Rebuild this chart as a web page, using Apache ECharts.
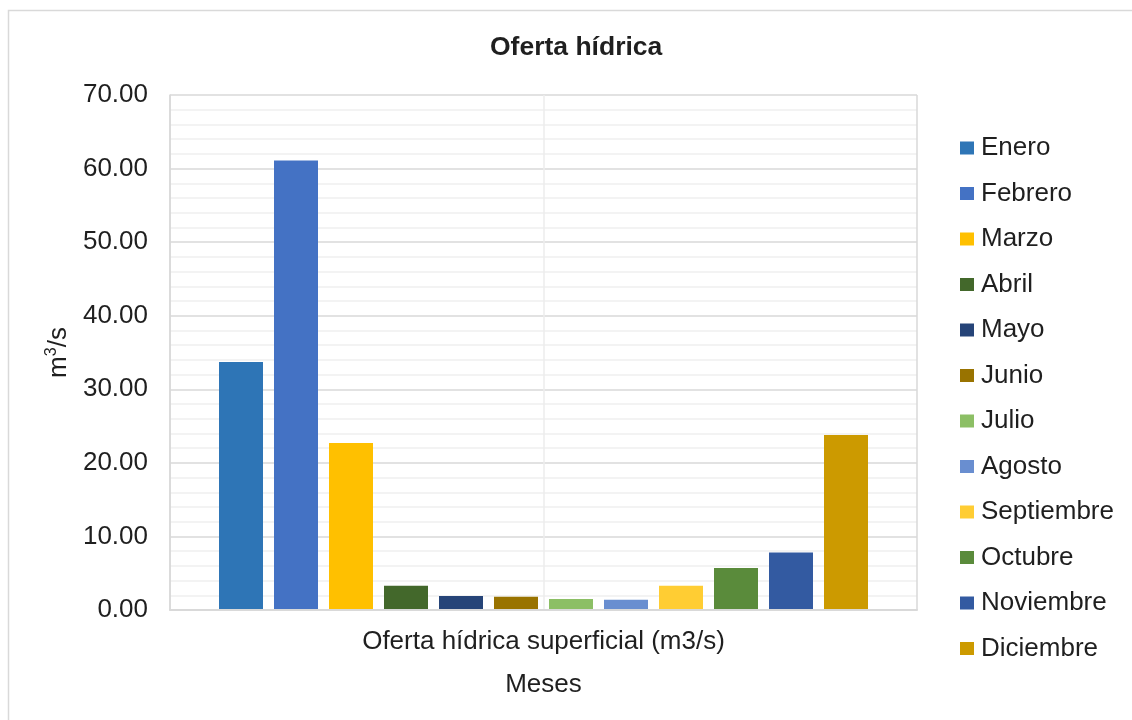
<!DOCTYPE html>
<html>
<head>
<meta charset="utf-8">
<title>Oferta hídrica</title>
<script src="https://cdn.jsdelivr.net/npm/echarts@6/dist/echarts.min.js"></script>
<style>
  html, body { margin: 0; padding: 0; background: #ffffff; }
  #chart { width: 1132px; height: 720px; }
</style>
</head>
<body>
<div id="chart"></div>
<script>
// Monthly surface water supply (m3/s)
const categories = ['Oferta hídrica superficial (m3/s)'];
const months = ['Enero', 'Febrero', 'Marzo', 'Abril', 'Mayo', 'Junio',
                'Julio', 'Agosto', 'Septiembre', 'Octubre', 'Noviembre', 'Diciembre'];
const values = [33.7, 61.1, 22.7, 3.3, 1.9, 1.8, 1.5, 1.4, 3.3, 5.7, 7.8, 23.8];
const colors = ['#2E75B6', '#4472C4', '#FFC000', '#43682B', '#264478', '#997300',
                '#8CBF65', '#698ED0', '#FFCD33', '#5A8B3B', '#335AA1', '#CC9A00'];
const yTicks = { min: 0, max: 70, interval: 10 };

const FONT = '"Liberation Sans", Arial, sans-serif';
const TXT = '#1f1f1f';

const series = months.map((m, i) => ({
  name: m,
  type: 'bar',
  xAxisIndex: 0,
  data: [values[i]],
  barWidth: 44,
  barGap: '25%',
  itemStyle: { color: colors[i] },
  emphasis: { disabled: true }
}));

const chart = echarts.init(document.getElementById('chart'), null, { renderer: 'canvas' });
chart.setOption({
  animation: false,
  backgroundColor: '#ffffff',
  textStyle: { fontFamily: FONT },
  graphic: [{
    type: 'rect',
    shape: { x: 8.5, y: 10.5, width: 1130, height: 715 },
    style: { fill: 'none', stroke: '#d9d9d9', lineWidth: 1.5 },
    silent: true,
    z: -10
  }],
  title: {
    text: 'Oferta hídrica',
    left: 485,
    top: 29,
    textStyle: { fontFamily: FONT, fontSize: 26.5, fontWeight: 'bold', color: TXT }
  },
  legend: {
    orient: 'vertical',
    left: 960,
    top: 135,
    padding: 0,
    itemWidth: 14,
    itemHeight: 13,
    itemGap: 19.5,
    icon: 'rect',
    selectedMode: false,
    textStyle: { fontFamily: FONT, fontSize: 26, color: TXT, lineHeight: 26, padding: [0, 0, 0, 2] },
    data: months
  },
  grid: { left: 170, top: 95, right: 215, bottom: 110 },
  xAxis: [{
    type: 'category',
    data: categories,
    name: 'Meses',
    nameLocation: 'middle',
    nameGap: 62,
    nameTextStyle: { fontFamily: FONT, fontSize: 26, color: TXT },
    axisLine: { show: true, lineStyle: { color: '#d9d9d9', width: 2 } },
    axisTick: { show: false },
    axisLabel: { fontFamily: FONT, fontSize: 26, color: TXT, margin: 19 },
    splitLine: { show: false },
    z: 3
  }, {
    // helper axis for the vertical gridlines: band edges and band centre
    type: 'value',
    min: 0,
    max: 2,
    interval: 1,
    show: true,
    position: 'bottom',
    axisLine: { show: false },
    axisTick: { show: false },
    axisLabel: { show: false },
    splitLine: { show: true, lineStyle: { color: ['#d9d9d9', '#ececec', '#d9d9d9'], width: 1.5 } }
  }],
  yAxis: {
    type: 'value',
    min: yTicks.min,
    max: yTicks.max,
    interval: yTicks.interval,
    name: 'm{sup|3}/s',
    nameLocation: 'middle',
    nameGap: 84,
    nameRotate: 90,
    nameTextStyle: {
      fontFamily: FONT, fontSize: 26, color: TXT,
      rich: {
        sup: { fontFamily: FONT, fontSize: 16, color: TXT, verticalAlign: 'top', lineHeight: 30 }
      }
    },
    axisLine: { show: true, lineStyle: { color: '#d9d9d9', width: 1.5 } },
    axisTick: { show: false },
    axisLabel: {
      fontFamily: FONT, fontSize: 26, color: TXT, margin: 22,
      formatter: v => v.toFixed(2)
    },
    splitLine: { show: true, lineStyle: { color: '#d9d9d9', width: 1.5 } },
    minorTick: { show: false, splitNumber: 5 },
    minorSplitLine: { show: true, lineStyle: { color: '#f0f0f0', width: 1.5 } }
  },
  series: series
});
</script>
</body>
</html>
